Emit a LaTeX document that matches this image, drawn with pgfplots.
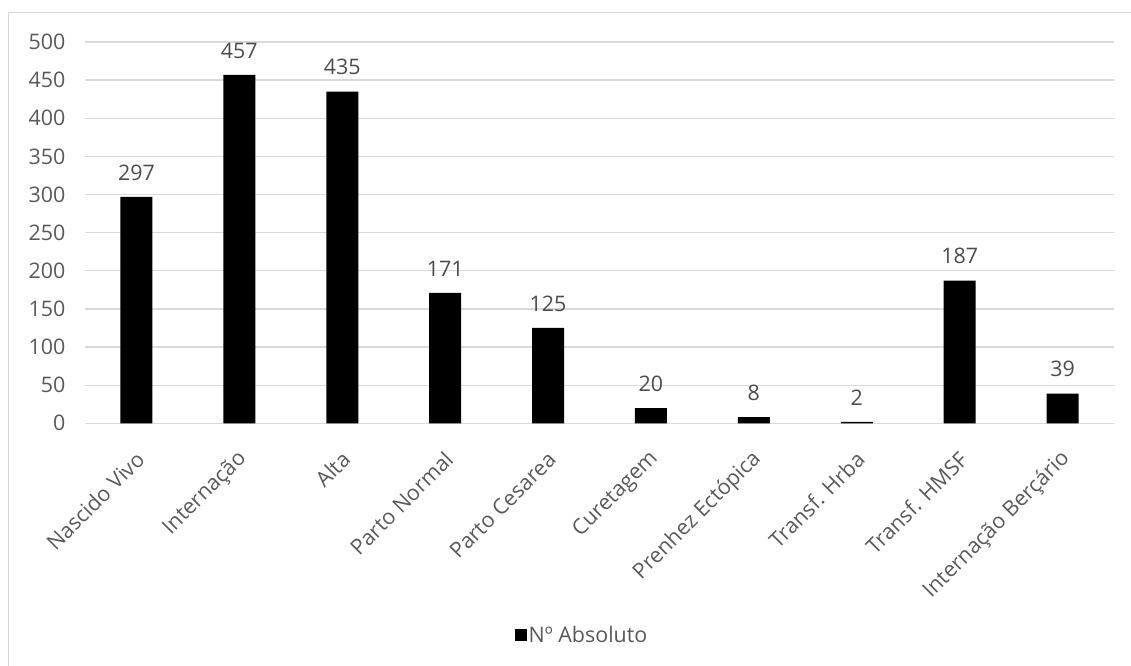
\documentclass[border=0pt]{standalone}
\usepackage{pgfplots}
\pgfplotsset{compat=1.18}
\usepackage{fontspec}
\setmainfont{Open Sans}
\definecolor{txt}{HTML}{595959}
\definecolor{gridc}{HTML}{D9D9D9}
\begin{document}
\begin{tikzpicture}[x=1bp,y=1bp]
\useasboundingbox (0,0) rectangle (1131,-666);
\draw[gridc, line width=1.3bp] (8.5,-666) -- (8.5,-12.5) -- (1131,-12.5);
\begin{axis}[
  at={(85bp,-423.3bp)}, anchor=south west,
  scale only axis, width=1029bp, height=381.3bp,
  xmin=-0.5, xmax=9.5, ymin=0, ymax=500,
  ytick={0,50,...,500},
  xtick={0,...,9},
  xticklabels={Nascido Vivo,Internação,Alta,Parto Normal,Parto Cesarea,Curetagem,Prenhez Ectópica,Transf. Hrba,Transf. HMSF,Internação Berçário},
  axis line style={draw=none},
  tick style={draw=none},
  ymajorgrids,
  major grid style={gridc, line width=1.3bp},
  /pgf/number format/assume math mode=true,
  yticklabel style={font=\fontsize{21.5}{25}\selectfont, text=txt, xshift=-16bp},
  xticklabel style={font=\fontsize{21.5}{25}\selectfont, text=txt, rotate=45, anchor=east, inner sep=0pt, xshift=-17bp, yshift=-22.6bp},
  ybar, bar width=32bp,
  nodes near coords,
  every node near coord/.append style={font=\fontsize{21.5}{25}\selectfont, text=txt!85!black, yshift=13bp},
  legend style={at={(0.483,-0.555)}, anchor=center, draw=none, fill=none, font=\fontsize{21.5}{25}\selectfont, text=txt},
  legend image code/.code={\fill[black] (-10bp,-6bp) rectangle (2bp,6bp);},
]
\addplot[fill=black, draw=none] coordinates {(0,297) (1,457) (2,435) (3,171) (4,125) (5,20) (6,8) (7,2) (8,187) (9,39)};
\addlegendentry{Nº Absoluto}
\end{axis}
\end{tikzpicture}
\end{document}
